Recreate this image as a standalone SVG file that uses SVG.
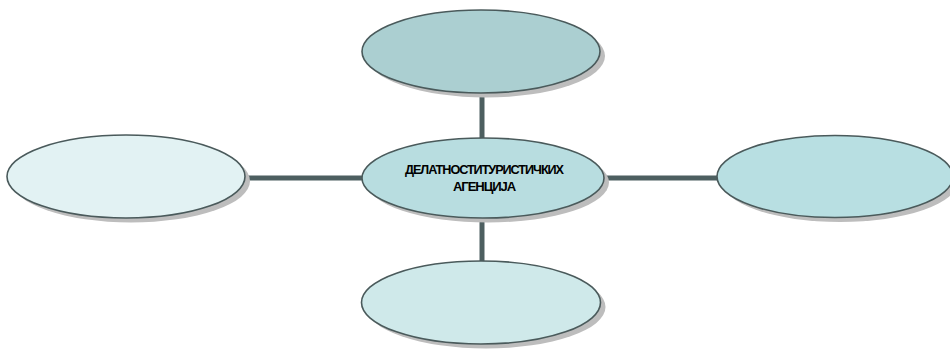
<svg xmlns="http://www.w3.org/2000/svg" width="950" height="353" viewBox="0 0 950 353">
<style>
.node{stroke:#4a5a5b;stroke-width:1.6}
.shadow{fill:#bdbdbd}
.conn{stroke:#4d5f60;stroke-width:5;fill:none}
.lbl{font-family:"Liberation Sans",Arial,sans-serif;font-size:12px;font-weight:bold;fill:#000;text-anchor:middle;letter-spacing:-1px}
</style>
<rect width="950" height="353" fill="#ffffff"/>
<g id="connectors">
<line class="conn" x1="482" y1="92" x2="482" y2="140"/>
<line class="conn" x1="482" y1="216" x2="482" y2="262"/>
<line class="conn" x1="244" y1="178" x2="364" y2="178"/>
<line class="conn" x1="602" y1="178" x2="718" y2="178"/>
</g>
<g id="node-top">
<ellipse class="shadow" cx="486" cy="56" rx="119" ry="41.5"/>
<ellipse class="node" cx="481" cy="51.5" rx="119" ry="41.5" fill="#abcfd1"/>
</g>
<g id="node-left">
<ellipse class="shadow" cx="131" cy="181" rx="119" ry="41.5"/>
<ellipse class="node" cx="126" cy="176.5" rx="119" ry="41.5" fill="#e2f2f3"/>
</g>
<g id="node-right">
<ellipse class="shadow" cx="840" cy="181" rx="118" ry="41"/>
<ellipse class="node" cx="835" cy="176.5" rx="118" ry="41" fill="#b8dfe2"/>
</g>
<g id="node-bottom">
<ellipse class="shadow" cx="486" cy="307" rx="119.5" ry="41.5"/>
<ellipse class="node" cx="481" cy="302.5" rx="119.5" ry="41.5" fill="#cfe9ea"/>
</g>
<g id="node-center">
<ellipse class="shadow" cx="488" cy="182.5" rx="121" ry="40"/>
<ellipse class="node" cx="483" cy="178" rx="121" ry="40" fill="#b8dde0"/>
<text class="lbl" x="484" y="174" textLength="158" lengthAdjust="spacingAndGlyphs">ДЕЛАТНОСТИТУРИСТИЧКИХ</text>
<text class="lbl" x="484" y="191" textLength="62" lengthAdjust="spacingAndGlyphs">АГЕНЦИЈА</text>
</g>
</svg>
